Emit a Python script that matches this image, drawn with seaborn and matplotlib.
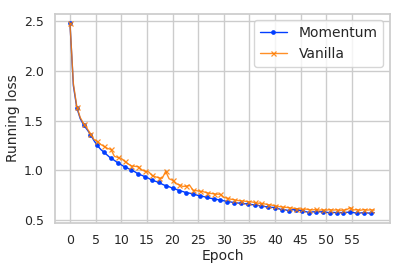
import numpy as np
import pandas as pd
import matplotlib
matplotlib.use("Agg")
import matplotlib.pyplot as plt
import seaborn as sns

# Running loss, logged every 2/3 epoch (90 records over 60 epochs)
epochs = np.arange(90) / 1.5

momentum = [
    2.48, 1.85, 1.63, 1.52, 1.455, 1.41, 1.36, 1.30, 1.25, 1.21,
    1.18, 1.15, 1.12, 1.10, 1.075, 1.055, 1.035, 1.02, 1.00, 0.985,
    0.962, 0.95, 0.935, 0.92, 0.90, 0.89, 0.878, 0.86, 0.845, 0.835,
    0.82, 0.81, 0.795, 0.787, 0.775, 0.77, 0.762, 0.752, 0.742, 0.737,
    0.728, 0.72, 0.712, 0.707, 0.70, 0.694, 0.686, 0.682, 0.675, 0.672,
    0.668, 0.665, 0.661, 0.657, 0.651, 0.647, 0.641, 0.636, 0.628, 0.628,
    0.626, 0.615, 0.602, 0.603, 0.594, 0.603, 0.606, 0.60, 0.59, 0.585,
    0.574, 0.582, 0.584, 0.584, 0.58, 0.578, 0.574, 0.577, 0.574, 0.576,
    0.573, 0.578, 0.58, 0.575, 0.567, 0.572, 0.573, 0.572, 0.567, 0.575,
]

vanilla = [
    2.48, 1.87, 1.64, 1.53, 1.47, 1.42, 1.37, 1.31, 1.29, 1.26,
    1.24, 1.22, 1.21, 1.14, 1.13, 1.12, 1.09, 1.065, 1.045, 1.04,
    1.037, 1.005, 0.99, 0.985, 0.95, 0.935, 0.925, 0.92, 0.99, 0.915,
    0.90, 0.865, 0.855, 0.838, 0.84, 0.85, 0.80, 0.795, 0.79, 0.785,
    0.775, 0.768, 0.765, 0.76, 0.76, 0.728, 0.72, 0.71, 0.705, 0.697,
    0.694, 0.69, 0.685, 0.683, 0.677, 0.67, 0.667, 0.662, 0.655, 0.65,
    0.645, 0.636, 0.632, 0.628, 0.625, 0.62, 0.615, 0.613, 0.607, 0.61,
    0.605, 0.602, 0.607, 0.60, 0.603, 0.60, 0.605, 0.60, 0.603, 0.598,
    0.60, 0.605, 0.625, 0.602, 0.605, 0.598, 0.606, 0.60, 0.603, 0.60,
]

series_names = ["Momentum", "Vanilla"]
xticks = list(range(0, 60, 5))

sns.set_theme(style="whitegrid")
pal = sns.color_palette("bright")

fig = plt.figure(figsize=(4.07, 2.71), dpi=100)
ax = fig.add_axes([0.135, 0.177, 0.823, 0.773])

df_m = pd.DataFrame({"epoch": epochs, "loss": momentum})
df_v = pd.DataFrame({"epoch": epochs, "loss": vanilla})

sns.lineplot(data=df_m, x="epoch", y="loss", ax=ax, color=pal[0],
             label=series_names[0], marker="o", markersize=3.4,
             markevery=2, linewidth=1.0, markeredgewidth=0)
sns.lineplot(data=df_v, x="epoch", y="loss", ax=ax, color=pal[1],
             label=series_names[1], marker="x", markersize=3.6,
             markevery=2, linewidth=1.0, alpha=0.85,
             markeredgewidth=0.9, markeredgecolor=pal[1])

ax.set_xlim(-2.93, 62.4)
ax.set_ylim(0.47, 2.576)
ax.set_xticks(xticks)
ax.set_yticks([0.5, 1.0, 1.5, 2.0, 2.5])
ax.tick_params(labelsize=9, pad=2)
ax.set_xlabel("Epoch", fontsize=10, labelpad=1)
ax.set_ylabel("Running loss", fontsize=10, labelpad=3)
ax.legend(loc="upper right", fontsize=10, frameon=True)

fig.savefig("out.png", dpi=100)
